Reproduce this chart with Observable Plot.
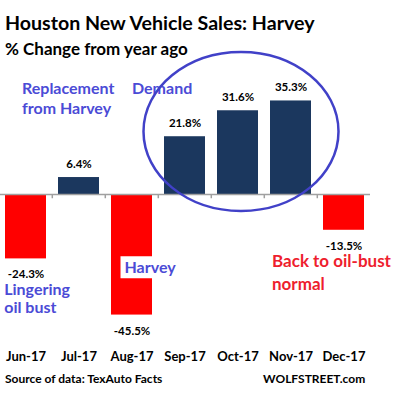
<!DOCTYPE html>
<html>
<head>
<meta charset="utf-8">
<script src="https://cdn.jsdelivr.net/npm/d3@7"></script>
<script src="https://cdn.jsdelivr.net/npm/@observablehq/plot@0.6"></script>
<style>
  html, body { margin: 0; padding: 0; background: #fff; }
  #wrap { position: relative; width: 400px; height: 398px; overflow: hidden; font-family: Lato, "Open Sans", sans-serif; font-weight: bold; color: #000; }
  .t { position: absolute; line-height: 1; white-space: nowrap; }
  #chart { position: absolute; left: 0; top: 62px; }
</style>
</head>
<body>
<div id="wrap">
  <div class="t" id="title" style="left:5px; top:12.5px; font-size:19.6px;">Houston New Vehicle Sales: Harvey</div>
  <div class="t" id="subtitle" style="left:5px; top:40px; font-size:17px;">% Change from year ago</div>
  <div id="chart"></div>
  <div class="t" style="left:5px; top:373px; font-size:12px;">Source of data: TexAuto Facts</div>
  <div class="t" style="left:263px; top:373px; font-size:12px;">WOLFSTREET.com</div>
</div>
<script>
// ---- data ----
const months = ["Jun-17", "Jul-17", "Aug-17", "Sep-17", "Oct-17", "Nov-17", "Dec-17"];
const changes = [-24.3, 6.4, -45.5, 21.8, 31.6, 35.3, -13.5];

const noteTexts  = ["Replacement", "Demand", "from Harvey", "Harvey", "Lingering", "oil bust", "Back to oil-bust", "normal"];
const noteMonths = ["Jun-17", "Aug-17", "Jun-17", "Aug-17", "Jun-17", "Jun-17", "Nov-17", "Nov-17"];
const noteValues = [38.1, 38.1, 30.2, -29.7, -37.9, -44.8, -27.5, -36.0];

const data = months.map((m, i) => ({month: m, value: changes[i]}));
const notes = noteTexts.map((t, i) => ({text: t, month: noteMonths[i], value: noteValues[i]}));

const NAVY = "#1B375E", RED = "#FF0000", BLUE = "#4B4BD6", RED_TEXT = "#EE1E2E", AXIS = "#A0A0A0";

// custom symbols (shapes drawn around an anchored point)
function ellipseSymbol(rx, ry) {
  const k = 0.5522847;
  return {draw(ctx) {
    ctx.moveTo(rx, 0);
    ctx.bezierCurveTo(rx, k * ry, k * rx, ry, 0, ry);
    ctx.bezierCurveTo(-k * rx, ry, -rx, k * ry, -rx, 0);
    ctx.bezierCurveTo(-rx, -k * ry, -k * rx, -ry, 0, -ry);
    ctx.bezierCurveTo(k * rx, -ry, rx, -k * ry, rx, 0);
    ctx.closePath();
  }};
}
function rectSymbol(x0, y0, x1, y1) {
  return {draw(ctx) {
    ctx.moveTo(x0, y0); ctx.lineTo(x1, y0); ctx.lineTo(x1, y1); ctx.lineTo(x0, y1); ctx.closePath();
  }};
}

function note(text, dx, color, size) {
  return Plot.text(notes.filter(d => d.text === text), {
    x: "month", y: "value", text: "text", dx,
    textAnchor: "start", lineAnchor: "bottom",
    fill: color, fontSize: size, fontWeight: "bold"
  });
}

const chart = Plot.plot({
  width: 400,
  height: 312,
  marginLeft: 0, marginRight: 30, marginTop: 0, marginBottom: 0,
  style: {fontFamily: "Lato, 'Open Sans', sans-serif", background: "transparent", overflow: "visible"},
  x: {domain: months, range: [-2, 372], paddingInner: 0.22, paddingOuter: 0.11, axis: null},
  y: {domain: [-50, 40], range: [264.5, 26], axis: null},
  marks: [
    Plot.barY(data, {x: "month", y: "value", fill: d => d.value < 0 ? RED : NAVY}),
    Plot.ruleY([0], {stroke: AXIS, strokeWidth: 1.5}),
    Plot.ruleX(months.slice(1), {x: d => d, y1: 0, y2: -1.6, dx: -26.7, stroke: AXIS, strokeWidth: 1.5}),
    // value labels
    Plot.text(data.filter(d => d.value >= 0), {x: "month", y: "value", text: d => d.value.toFixed(1) + "%", lineAnchor: "bottom", dy: -9.5, fontSize: 11.5, fill: "#000"}),
    Plot.text(data.filter(d => d.value < 0), {x: "month", y: "value", text: d => d.value.toFixed(1) + "%", lineAnchor: "bottom", dy: 19.5, fontSize: 11.5, fill: "#000"}),
    // month labels
    Plot.text(months, {x: d => d, frameAnchor: "bottom", lineAnchor: "bottom", dy: -14, fontSize: 13, fontWeight: "bold", fill: "#000"}),
    // white box behind "Harvey"
    Plot.dot(notes.filter(d => d.text === "Harvey"), {x: "month", y: "value", dx: -7.5, r: 1, symbol: rectSymbol(-4, -17, 56, 5), fill: "#fff", stroke: "none"}),
    // annotations
    note("Replacement", -4, BLUE, 16),
    note("Demand", 0, BLUE, 16),
    note("from Harvey", -4, BLUE, 16),
    note("Harvey", -7.5, BLUE, 16),
    note("Lingering", -21.8, BLUE, 16),
    note("oil bust", -21.8, BLUE, 16),
    note("Back to oil-bust", -19, RED_TEXT, 17),
    note("normal", -19, RED_TEXT, 17),
    // ellipse around the replacement-demand months
    Plot.dot([{month: "Oct-17", value: 23.8}], {x: "month", y: "value", dx: 3, r: 1, symbol: ellipseSymbol(97.5, 79.5), fill: "none", stroke: "#4141C8", strokeWidth: 2.5})
  ]
});
document.getElementById("chart").appendChild(chart);
</script>
</body>
</html>
